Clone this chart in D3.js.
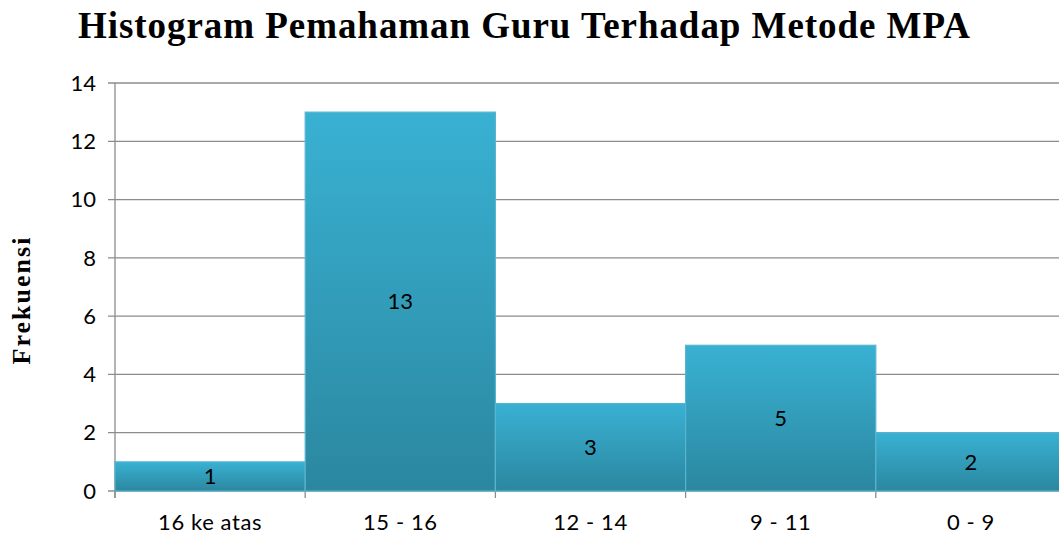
<!DOCTYPE html>
<html>
<head>
<meta charset="utf-8">
<script src="https://cdn.jsdelivr.net/npm/d3@7"></script>
<style>
  body { margin: 0; background: #fff; overflow: hidden; }
</style>
</head>
<body>
<div id="chart"></div>
<script>
// Histogram — D3 version of the Excel chart

const categories = ['16 ke atas', '15 - 16', '12 - 14', '9 - 11', '0 - 9'];
const frequencies = [1, 13, 3, 5, 2];
const yTicks = [0, 2, 4, 6, 8, 10, 12, 14];

const width = 1059, height = 535;
const margin = { top: 83, right: -7, bottom: 44, left: 115 };
const innerW = width - margin.left - margin.right;
const innerH = height - margin.top - margin.bottom;

const svg = d3.select('#chart').append('svg')
    .attr('width', width)
    .attr('height', height);

const defs = svg.append('defs');
const grad = defs.append('linearGradient')
    .attr('id', 'barGrad')
    .attr('x1', 0).attr('y1', 0).attr('x2', 0).attr('y2', 1);
grad.append('stop').attr('offset', '0%').attr('stop-color', '#39b1d3');
grad.append('stop').attr('offset', '100%').attr('stop-color', '#2b87a0');

const g = svg.append('g')
    .attr('transform', `translate(${margin.left},${margin.top})`);

const x = d3.scaleBand()
    .domain(categories)
    .range([0, innerW])
    .padding(0);

const y = d3.scaleLinear()
    .domain([0, 14])
    .range([innerH, 0]);

// gridlines
g.selectAll('.grid')
    .data(yTicks)
    .enter()
    .append('line')
    .attr('x1', -7)
    .attr('x2', innerW)
    .attr('y1', d => y(d))
    .attr('y2', d => y(d))
    .attr('stroke', '#8c8c8c')
    .attr('stroke-width', 1.3);

// y axis line
g.append('line')
    .attr('x1', 0).attr('x2', 0)
    .attr('y1', 0).attr('y2', innerH + 7)
    .attr('stroke', '#8c8c8c')
    .attr('stroke-width', 1.3);

// x axis ticks at category boundaries
const bounds = categories.map(c => x(c)).concat([innerW]);
g.selectAll('.xtick')
    .data(bounds)
    .enter()
    .append('line')
    .attr('x1', d => d).attr('x2', d => d)
    .attr('y1', innerH).attr('y2', innerH + 7)
    .attr('stroke', '#8c8c8c')
    .attr('stroke-width', 1.3);

// bars
g.selectAll('.bar')
    .data(frequencies)
    .enter()
    .append('rect')
    .attr('x', (d, i) => x(categories[i]))
    .attr('y', d => y(d))
    .attr('width', x.bandwidth())
    .attr('height', d => innerH - y(d))
    .attr('fill', 'url(#barGrad)')
    .attr('stroke', '#58b4cf')
    .attr('stroke-width', 1.2);

// value labels
g.selectAll('.val')
    .data(frequencies)
    .enter()
    .append('text')
    .attr('x', (d, i) => x(categories[i]) + x.bandwidth() / 2)
    .attr('y', d => (y(d) + innerH) / 2)
    .attr('dy', '0.35em')
    .attr('text-anchor', 'middle')
    .attr('font-family', 'Lato, sans-serif')
    .attr('font-size', '22px')
    .attr('fill', '#000')
    .text(d => d);

// y tick labels
g.selectAll('.ylab')
    .data(yTicks)
    .enter()
    .append('text')
    .attr('x', -19)
    .attr('y', d => y(d))
    .attr('dy', '0.35em')
    .attr('text-anchor', 'end')
    .attr('font-family', 'Lato, sans-serif')
    .attr('font-size', '22px')
    .attr('fill', '#000')
    .text(d => d);

// x category labels
g.selectAll('.xlab')
    .data(categories)
    .enter()
    .append('text')
    .attr('x', d => x(d) + x.bandwidth() / 2)
    .attr('y', innerH + 31)
    .attr('dy', '0.35em')
    .attr('text-anchor', 'middle')
    .attr('font-family', 'Lato, sans-serif')
    .attr('font-size', '22px')
    .attr('letter-spacing', '0.6px')
    .attr('fill', '#000')
    .text(d => d);

// title
svg.append('text')
    .attr('x', 524)
    .attr('y', 38)
    .attr('text-anchor', 'middle')
    .attr('font-family', '"Liberation Serif", "Times New Roman", serif')
    .attr('font-weight', 'bold')
    .attr('font-size', '37px')
    .attr('textLength', 892)
    .attr('lengthAdjust', 'spacing')
    .attr('fill', '#000')
    .text('Histogram Pemahaman Guru Terhadap Metode MPA');

// y axis title
svg.append('text')
    .attr('transform', 'translate(30,301) rotate(-90)')
    .attr('text-anchor', 'middle')
    .attr('font-family', '"Liberation Serif", "Times New Roman", serif')
    .attr('font-weight', 'bold')
    .attr('font-size', '26px')
    .attr('textLength', 127)
    .attr('lengthAdjust', 'spacing')
    .attr('fill', '#000')
    .text('Frekuensi');
</script>
</body>
</html>
